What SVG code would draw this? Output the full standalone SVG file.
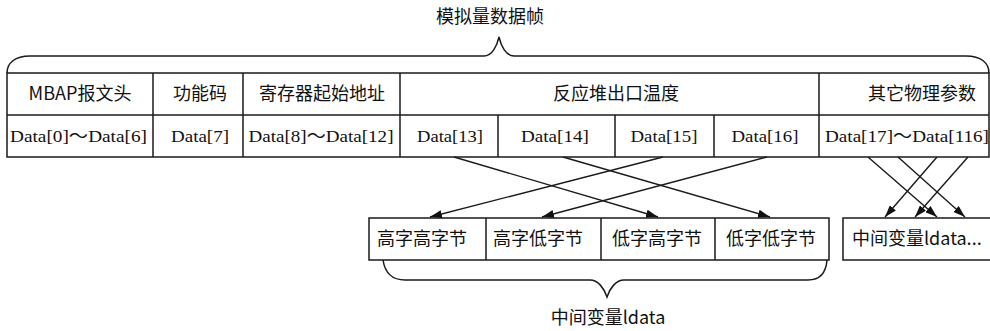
<svg xmlns="http://www.w3.org/2000/svg" width="990" height="331" viewBox="0 0 990 331">
<defs>
<style>
.ln{fill:none;stroke:#1a1a1a;stroke-width:1.5}
.cn{fill:#111;font-family:"Noto Sans CJK SC","Noto Sans",sans-serif;font-size:18px;text-anchor:middle}
.dt{fill:#111;font-family:"Liberation Serif","Noto Sans CJK SC",serif;font-size:17px;text-anchor:middle}
.ar{stroke:#1a1a1a;stroke-width:1.4;fill:none;marker-end:url(#ah)}
</style>
<marker id="ah" markerUnits="userSpaceOnUse" markerWidth="12" markerHeight="8" refX="12" refY="4" orient="auto">
<path d="M0,0 L12,4 L0,8 z" fill="#111"/>
</marker>
</defs>
<rect width="990" height="331" fill="#fff"/>

<g id="title">
<text class="cn" x="490" y="23" font-size="19">模拟量数据帧</text>
<path class="ln" d="M7,73 C7,63 15,56 30,56 L484,56 C492,56 497,46 499,37 C501,46 506,56 514,56 L966,56 C981,56 989,63 989,73"/>
</g>

<g id="frame-table">
<rect class="ln" x="7" y="73" width="982" height="84"/>
<line class="ln" x1="7" y1="115" x2="989" y2="115"/>
<line class="ln" x1="153" y1="73" x2="153" y2="157"/>
<line class="ln" x1="243" y1="73" x2="243" y2="157"/>
<line class="ln" x1="400" y1="73" x2="400" y2="157"/>
<line class="ln" x1="819" y1="73" x2="819" y2="157"/>
<line class="ln" x1="498" y1="115" x2="498" y2="157"/>
<line class="ln" x1="615" y1="115" x2="615" y2="157"/>
<line class="ln" x1="714" y1="115" x2="714" y2="157"/>
</g>

<g id="mbap">
<text class="cn" x="80" y="100" font-size="17">MBAP报文头</text>
<text class="dt" x="78.5" y="142" textLength="137" lengthAdjust="spacingAndGlyphs">Data[0]～Data[6]</text>
</g>
<g id="func">
<text class="cn" x="200" y="100">功能码</text>
<text class="dt" x="200" y="142" textLength="58" lengthAdjust="spacingAndGlyphs">Data[7]</text>
</g>
<g id="reg">
<text class="cn" x="322" y="100">寄存器起始地址</text>
<text class="dt" x="321" y="142" textLength="145" lengthAdjust="spacingAndGlyphs">Data[8]～Data[12]</text>
</g>
<g id="temp">
<text class="cn" x="616" y="100">反应堆出口温度</text>
<text class="dt" x="450" y="142" textLength="66" lengthAdjust="spacingAndGlyphs">Data[13]</text>
<text class="dt" x="555" y="142" textLength="68" lengthAdjust="spacingAndGlyphs">Data[14]</text>
<text class="dt" x="664" y="142" textLength="67" lengthAdjust="spacingAndGlyphs">Data[15]</text>
<text class="dt" x="765" y="142" textLength="67" lengthAdjust="spacingAndGlyphs">Data[16]</text>
</g>
<g id="other">
<text class="cn" x="922" y="100">其它物理参数</text>
<text class="dt" x="907" y="142" textLength="164" lengthAdjust="spacingAndGlyphs">Data[17]～Data[116]</text>
</g>

<g id="ldata">
<rect class="ln" x="369" y="218" width="460" height="42"/>
<line class="ln" x1="486" y1="218" x2="486" y2="260"/>
<line class="ln" x1="601" y1="218" x2="601" y2="260"/>
<line class="ln" x1="715" y1="218" x2="715" y2="260"/>
<text class="cn" x="422" y="245">高字高字节</text>
<text class="cn" x="538" y="245">高字低字节</text>
<text class="cn" x="657" y="245">低字高字节</text>
<text class="cn" x="771" y="245">低字低字节</text>
<path class="ln" d="M383,260 C385,273 392,280 405,280 L590,280 C598,280 604,288 607,297 C610,288 616,280 624,280 L808,280 C820,280 826,273 827,260"/>
<text class="cn" x="608" y="324" font-size="18.5">中间变量ldata</text>
</g>

<g id="ldata-more">
<rect class="ln" x="843" y="218" width="160" height="42"/>
<text class="cn" x="852" y="245" style="text-anchor:start">中间变量ldata...</text>
</g>

<g id="connectors">
<line class="ar" x1="454" y1="157" x2="658" y2="217"/>
<line class="ar" x1="563" y1="157" x2="770" y2="217"/>
<line class="ar" x1="663" y1="157" x2="430" y2="217"/>
<line class="ar" x1="767" y1="157" x2="542" y2="217"/>
<line class="ar" x1="868" y1="157" x2="937" y2="217"/>
<line class="ar" x1="898" y1="157" x2="965" y2="217"/>
<line class="ar" x1="937" y1="157" x2="885" y2="217"/>
<line class="ar" x1="968" y1="157" x2="915" y2="217"/>
</g>
</svg>
